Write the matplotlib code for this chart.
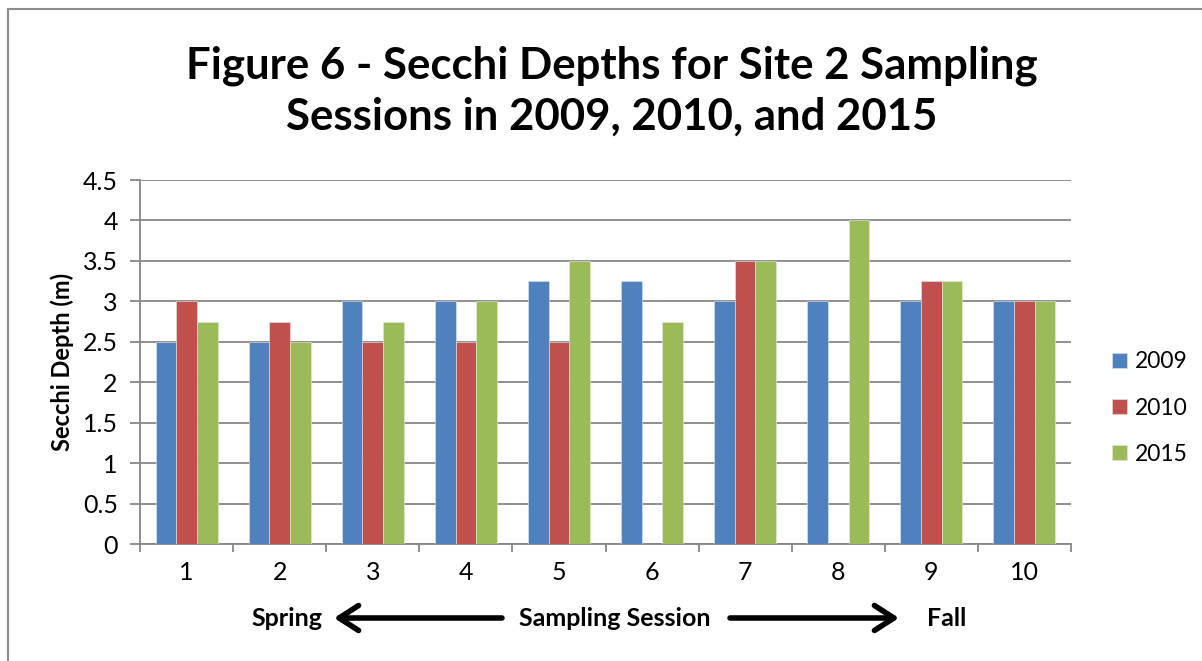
import matplotlib
matplotlib.use("Agg")
import matplotlib.pyplot as plt
import numpy as np
from matplotlib.patches import Rectangle, FancyArrowPatch

plt.rcParams["font.family"] = ["Lato", "DejaVu Sans"]

sessions = ["1", "2", "3", "4", "5", "6", "7", "8", "9", "10"]
years = ["2009", "2010", "2015"]
depth_2009 = [2.5, 2.5, 3.0, 3.0, 3.25, 3.25, 3.0, 3.0, 3.0, 3.0]
depth_2010 = [3.0, 2.75, 2.5, 2.5, 2.5, np.nan, 3.5, np.nan, 3.25, 3.0]
depth_2015 = [2.75, 2.5, 2.75, 3.0, 3.5, 2.75, 3.5, 4.0, 3.25, 3.0]
y_ticks = [0, 0.5, 1, 1.5, 2, 2.5, 3, 3.5, 4, 4.5]
y_tick_labels = ["0", "0.5", "1", "1.5", "2", "2.5", "3", "3.5", "4", "4.5"]

COLORS = ["#4F81BD", "#C0504D", "#9BBB59"]
GRID = "#878787"

fig = plt.figure(figsize=(12.02, 6.61), dpi=100)
fig.patch.set_facecolor("white")

# chart border (Excel chart area)
fig.add_artist(Rectangle((8 / 1202, -0.05), 1.2, 1 - 9 / 661 + 0.05,
                         transform=fig.transFigure, fill=False,
                         edgecolor="#8c8c8c", linewidth=1.5))

ax = fig.add_axes([140 / 1202, 1 - 544 / 661, (1071 - 140) / 1202, (544 - 180) / 661])

x = np.arange(len(sessions))
width = 0.222
for i, (vals, yr) in enumerate(zip([depth_2009, depth_2010, depth_2015], years)):
    ax.bar(x + (i - 1) * width, vals, width, color=COLORS[i], label=yr,
           edgecolor="#e8e8e8", linewidth=0.4, zorder=3)

ax.set_xlim(-0.5, len(sessions) - 0.5)
ax.set_ylim(0, 4.5)
ax.set_yticks(y_ticks)
ax.set_yticklabels(y_tick_labels, fontsize=18)
ax.yaxis.grid(True, color=GRID, linewidth=1.3, zorder=0)
ax.set_axisbelow(True)

ax.set_xticks(x)
ax.set_xticklabels(sessions, fontsize=18)
ax.set_xticks(np.arange(-0.5, len(sessions)), minor=True)
ax.tick_params(axis="x", which="major", length=0, pad=12)
ax.tick_params(axis="x", which="minor", length=6, color=GRID, width=1.3, direction="out")
ax.tick_params(axis="y", length=7, color=GRID, width=1.3, direction="out", pad=9)

for s in ["top", "right"]:
    ax.spines[s].set_visible(False)
for s in ["left", "bottom"]:
    ax.spines[s].set_color(GRID)
    ax.spines[s].set_linewidth(1.3)

ax.set_ylabel("Secchi Depth (m)", fontsize=17, fontweight="bold", labelpad=6)

fig.text(0.509, 1 - 91 / 661, "Figure 6 - Secchi Depths for Site 2 Sampling\nSessions in 2009, 2010, and 2015",
         ha="center", va="center", fontsize=31.5, fontweight="bold", linespacing=1.3)

leg = fig.legend(loc="center left", bbox_to_anchor=(1112 / 1202, 1 - 408 / 661),
                 frameon=False, fontsize=16.5, handlelength=0.65, handleheight=0.65,
                 handletextpad=0.35, labelspacing=1.1, borderpad=0, borderaxespad=0)

# bottom annotation: Spring <- Sampling Session -> Fall
y_ann = 1 - 618 / 661
fig.text(287 / 1202, y_ann, "Spring", ha="center", va="center", fontsize=18, fontweight="bold")
fig.text(615 / 1202, y_ann, "Sampling Session", ha="center", va="center", fontsize=18, fontweight="bold")
fig.text(947 / 1202, y_ann, "Fall", ha="center", va="center", fontsize=18, fontweight="bold")
arrow = dict(arrowstyle="->,head_length=0.7,head_width=0.45", color="black",
             linewidth=4, mutation_scale=20, shrinkA=0, shrinkB=0)
fig.add_artist(FancyArrowPatch((502 / 1202, y_ann), (334 / 1202, y_ann),
                               transform=fig.transFigure, **arrow))
fig.add_artist(FancyArrowPatch((730 / 1202, y_ann), (899 / 1202, y_ann),
                               transform=fig.transFigure, **arrow))

fig.savefig("out.png", dpi=100, facecolor="white")
